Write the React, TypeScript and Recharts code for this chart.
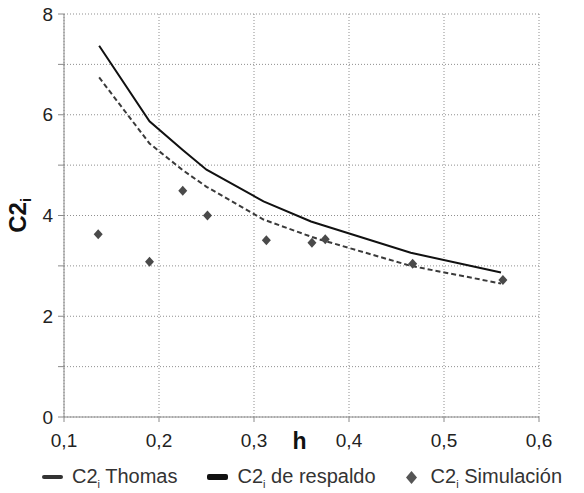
import { CartesianGrid, ComposedChart, Label, Legend, Line, Scatter, XAxis, YAxis } from "recharts";

const hLine = [0.137, 0.19, 0.225, 0.25, 0.31, 0.36, 0.37, 0.465, 0.56];
const thomas = [7.37, 5.87, 5.3, 4.91, 4.28, 3.88, 3.82, 3.26, 2.87];
const respaldo = [6.74, 5.43, 4.9, 4.57, 3.92, 3.58, 3.52, 3.0, 2.65];

const hSim = [0.136, 0.19, 0.225, 0.251, 0.313, 0.361, 0.375, 0.467, 0.562];
const simulacion = [3.63, 3.08, 4.49, 4.0, 3.51, 3.46, 3.53, 3.04, 2.72];

const xTicks = [0.1, 0.2, 0.3, 0.4, 0.5, 0.6];
const xMinorTicks = [0.15, 0.25, 0.35, 0.45, 0.55];
const yTicks = [0, 1, 2, 3, 4, 5, 6, 7, 8];
const yMinorTicks = [0.5, 1.5, 2.5, 3.5, 4.5, 5.5, 6.5, 7.5];

const FONT = "'Liberation Sans', Arial, sans-serif";
const AXIS = "#8a8a8a";

const thomasData = hLine.map((h, i) => ({ h, y: thomas[i] }));
const respaldoData = hLine.map((h, i) => ({ h, y: respaldo[i] }));
const simData = hSim.map((h, i) => ({ h, y: simulacion[i] }));

function Diamond({ cx, cy }: { cx?: number; cy?: number }) {
  if (cx == null || cy == null) return null;
  return (
    <polygon
      points={`${cx},${cy - 5} ${cx + 4.5},${cy} ${cx},${cy + 5} ${cx - 4.5},${cy}`}
      fill="#4a4a4a"
    />
  );
}

function YTitle({ viewBox }: any) {
  const x = 26;
  const y = viewBox.y + viewBox.height / 2;
  return (
    <text
      x={x}
      y={y}
      transform={`rotate(-90 ${x} ${y})`}
      textAnchor="middle"
      fontFamily={FONT}
      fontWeight="bold"
      fontSize={24}
      fill="#111"
    >
      C2
      <tspan fontSize={14} dy={5}>i</tspan>
    </text>
  );
}

function XTitle({ viewBox }: any) {
  return (
    <text
      x={viewBox.x + viewBox.width / 2 - 2}
      y={viewBox.y + 32}
      textAnchor="middle"
      fontFamily={FONT}
      fontWeight="bold"
      fontSize={23}
      fill="#111"
    >
      h
    </text>
  );
}

const LEGEND = [
  { label: "Thomas", kind: "thin" },
  { label: "de respaldo", kind: "thick" },
  { label: "Simulación", kind: "diamond" },
];

function LegendRow() {
  return (
    <div
      style={{
        display: "flex",
        alignItems: "center",
        height: 24,
        gap: 30,
        fontFamily: FONT,
        fontSize: 20,
        color: "#333",
        paddingLeft: 42,
      }}
    >
      {LEGEND.map((item) => (
        <span key={item.label} style={{ display: "flex", alignItems: "center", gap: item.kind === "diamond" ? 14 : 9 }}>
          {item.kind === "diamond" ? (
            <svg width={11} height={13}>
              <polygon points="5.5,0 11,6.5 5.5,13 0,6.5" fill="#555" />
            </svg>
          ) : (
            <span
              style={{
                display: "inline-block",
                width: 21,
                height: item.kind === "thin" ? 4 : 6,
                borderRadius: 2,
                background: item.kind === "thin" ? "#333" : "#111",
              }}
            />
          )}
          <span style={{ whiteSpace: "nowrap" }}>
            C2<sub style={{ fontSize: 11 }}>i</sub> {item.label}
          </span>
        </span>
      ))}
    </div>
  );
}

export default function App() {
  return (
    <div style={{ position: "absolute", left: 0, top: 0, background: "#fff" }}>
      <ComposedChart width={584} height={493} margin={{ top: 14, right: 45, bottom: 4, left: 0 }}>
        <CartesianGrid stroke="#8f8f8f" strokeDasharray="1 2" horizontalValues={yTicks} verticalValues={xTicks} />
        <XAxis
          xAxisId="minor"
          dataKey="h"
          type="number"
          domain={[0.1, 0.6]}
          ticks={xMinorTicks}
          height={0}
          axisLine={false}
          tickSize={3}
          tickLine={{ stroke: AXIS }}
          tick={() => <g />}
        />
        <XAxis
          dataKey="h"
          type="number"
          domain={[0.1, 0.6]}
          ticks={xTicks}
          height={48}
          stroke={AXIS}
          tickSize={5}
          tickMargin={12}
          tickFormatter={(v: number) => v.toFixed(1).replace(".", ",")}
          tick={{ fill: "#222", fontSize: 19, fontFamily: FONT }}
        >
          <Label content={<XTitle />} />
        </XAxis>
        <YAxis
          yAxisId="minor"
          type="number"
          domain={[0, 8]}
          ticks={yMinorTicks}
          width={0}
          axisLine={false}
          tickSize={3}
          tickLine={{ stroke: AXIS }}
          tick={() => <g />}
        />
        <YAxis
          type="number"
          domain={[0, 8]}
          ticks={yTicks}
          width={64}
          stroke={AXIS}
          tickSize={6}
          tickMargin={5}
          tickFormatter={(v: number) => (v % 2 === 0 ? String(v) : "")}
          tick={{ fill: "#222", fontSize: 19, fontFamily: FONT }}
        >
          <Label content={<YTitle />} />
        </YAxis>
        <Line
          data={respaldoData}
          dataKey="y"
          type="linear"
          stroke="#3a3a3a"
          strokeWidth={2}
          strokeDasharray="5 3"
          dot={false}
          isAnimationActive={false}
        />
        <Line
          data={thomasData}
          dataKey="y"
          type="linear"
          stroke="#111"
          strokeWidth={2}
          dot={false}
          isAnimationActive={false}
        />
        <Scatter data={simData} dataKey="y" shape={<Diamond />} isAnimationActive={false} />
        <Legend verticalAlign="bottom" height={24} content={() => <LegendRow />} />
      </ComposedChart>
    </div>
  );
}
